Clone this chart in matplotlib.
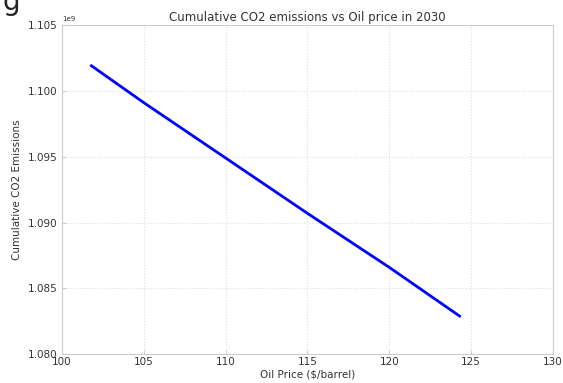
import numpy as np
import matplotlib
matplotlib.use("Agg")
import matplotlib.pyplot as plt

# oil price vs cumulative CO2 emissions (2030)
oil_price = [101.8, 105.0, 110.0, 115.0, 120.0, 124.3]
co2_cum = [1.1019e9, 1.0991e9, 1.0949e9, 1.0907e9, 1.0866e9, 1.0829e9]

fig = plt.figure(figsize=(5.63, 3.83), dpi=100)
ax = fig.add_axes([0.110, 0.075, 0.872, 0.860])

ax.plot(oil_price, co2_cum, '-', color='#0000ff', linewidth=2)

ax.set_xlim(100, 130)
ax.set_ylim(1.080e9, 1.105e9)
ax.set_xticks([100, 105, 110, 115, 120, 125, 130])
ax.set_yticks(np.arange(1.080e9, 1.1051e9, 0.005e9))
ax.grid(True, linestyle=':', color='#dddddd', linewidth=0.8)

for sp in ax.spines.values():
    sp.set_color('#cccccc')
ax.tick_params(labelsize=7.5, colors='#cccccc', labelcolor='#333333',
               direction='in', length=3)
ax.tick_params(axis='x', pad=2)
ax.tick_params(axis='y', pad=3)
ax.yaxis.get_offset_text().set_fontsize(5)
ax.yaxis.get_offset_text().set_color('#333333')

ax.set_title('Cumulative CO2 emissions vs Oil price in 2030', fontsize=8.5, color='#333333', pad=3)
ax.set_xlabel('Oil Price ($/barrel)', fontsize=7.5, color='#333333', labelpad=2)
ax.set_ylabel('Cumulative CO2 Emissions', fontsize=7.5, color='#333333', labelpad=4)

# cropped text fragment at top left of the screenshot
fig.text(0.005, 0.995, 'g', fontsize=20, va='center', ha='left', color='#222222')

fig.savefig('out.png', dpi=100)
